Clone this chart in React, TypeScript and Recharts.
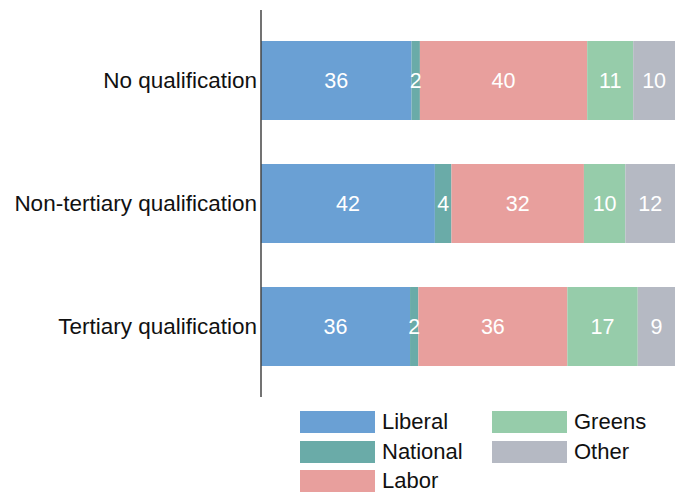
import React from "react";
import { BarChart, Bar, XAxis, YAxis, LabelList } from "recharts";

const categories = ["No qualification", "Non-tertiary qualification", "Tertiary qualification"];
const liberal = [36, 42, 36];
const national = [2, 4, 2];
const labor = [40, 32, 36];
const greens = [11, 10, 17];
const other = [10, 12, 9];

const seriesNames = ["Liberal", "National", "Labor", "Greens", "Other"];
const seriesKeys = ["liberal", "national", "labor", "greens", "other"];
const colors = ["#6aa0d4", "#6aaba8", "#e89f9d", "#96ccaa", "#b5b9c3"];

const data = categories.map((name, i) => ({
  name,
  liberal: liberal[i],
  national: national[i],
  labor: labor[i],
  greens: greens[i],
  other: other[i],
}));

const FONT = '"Liberation Sans", Arial, Helvetica, sans-serif';

const legendLayout = [
  { idx: 0, left: 300, top: 411 },
  { idx: 1, left: 300, top: 440.5 },
  { idx: 2, left: 300, top: 469.5 },
  { idx: 3, left: 492, top: 411 },
  { idx: 4, left: 492, top: 440.5 },
];

export default function App() {
  return (
    <div style={{ position: "absolute", left: 0, top: 0, width: 683, height: 492, fontFamily: FONT, background: "#fff", overflow: "hidden" }}>
      <BarChart
        width={683}
        height={492}
        data={data}
        layout="vertical"
        stackOffset="expand"
        margin={{ top: 10, right: 8, bottom: 95, left: 0 }}
        barSize={79}
      >
        <XAxis type="number" hide domain={[0, 1]} />
        <YAxis
          type="category"
          dataKey="name"
          width={261}
          tickLine={false}
          tickSize={0}
          tickMargin={4}
          axisLine={{ stroke: "#444", strokeWidth: 1.5 }}
          padding={{ top: 9, bottom: 9 }}
          tick={{ fill: "#111", fontSize: 22.5, fontFamily: FONT }}
        />
        {seriesKeys.map((k, i) => (
          <Bar key={k} dataKey={k} stackId="a" fill={colors[i]} isAnimationActive={false}>
            <LabelList
              dataKey={k}
              position="center"
              fill="#fff"
              style={{ fontSize: 21.5, fontFamily: FONT }}
            />
          </Bar>
        ))}
      </BarChart>
      {legendLayout.map(({ idx, left, top }) => (
        <div key={idx} style={{ position: "absolute", left, top, height: 22, display: "flex", alignItems: "center" }}>
          <div style={{ width: 75, height: 22, background: colors[idx] }} />
          <span style={{ marginLeft: 7, fontSize: 22, color: "#111", lineHeight: "22px" }}>{seriesNames[idx]}</span>
        </div>
      ))}
    </div>
  );
}
